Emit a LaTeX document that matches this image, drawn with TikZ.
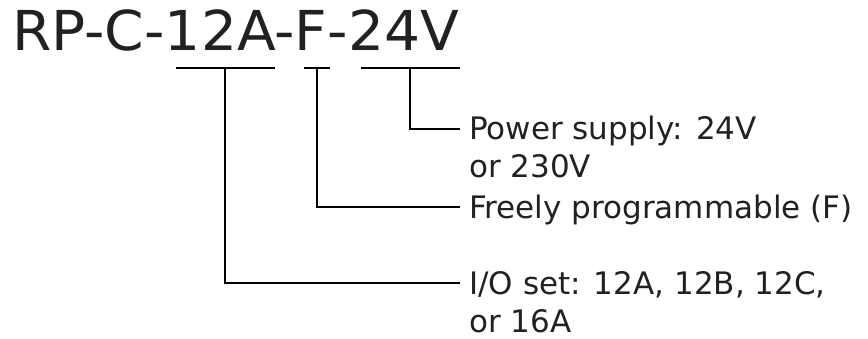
\documentclass[tikz,border=0pt]{standalone}
\usepackage{fontspec}
\setmainfont{DejaVu Sans}
\newfontfamily\titlefont[FakeStretch=1.03]{DejaVu Sans}
\begin{document}
\begin{tikzpicture}[x=1pt,y=-1pt,
  conn/.style={line width=2pt, black},
  titletext/.style={anchor=base west, inner sep=0pt, font=\titlefont\fontsize{55}{66}\selectfont, text=black!87},
  labeltext/.style={anchor=base west, inner sep=0pt, align=left, font=\fontsize{31}{38}\selectfont, text=black!87}]
\useasboundingbox (0,0) rectangle (868,338);
\node[titletext] (title) at (12,50) {RP-C-12A-F-24V};
% underlines
\coordinate (a1) at (176,68); \coordinate (a2) at (275,68); \coordinate (u1) at (225,68);
\coordinate (b1) at (304,68); \coordinate (b2) at (330,68); \coordinate (u2) at (317,68);
\coordinate (c1) at (361,68); \coordinate (c2) at (460,68); \coordinate (u3) at (410,68);
\draw[conn] (a1) -- (a2);
\draw[conn] (b1) -- (b2);
\draw[conn] (c1) -- (c2);
% labels (base anchor of a two-line node is the baseline of its last line)
\node[labeltext] (pw) at (469,177) {Power supply: 24V\\or 230V};
\node[labeltext] (fp) at (469,218) {Freely programmable (F)};
\node[labeltext] (io) at (469,332) {I/O set: 12A, 12B, 12C,\\or 16A};
\coordinate (e3) at (460,129);
\coordinate (e2) at (460,207);
\coordinate (e1) at (460,283);
\draw[conn] (u3) |- (e3);
\draw[conn] (u2) |- (e2);
\draw[conn] (u1) |- (e1);
\end{tikzpicture}
\end{document}
